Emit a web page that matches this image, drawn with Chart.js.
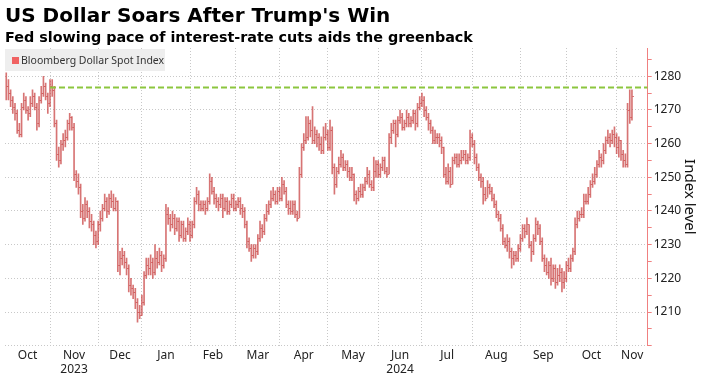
<!DOCTYPE html>
<html>
<head>
<meta charset="utf-8">
<script src="https://cdn.jsdelivr.net/npm/chart.js@4.4.1/dist/chart.umd.min.js"></script>
<style>
  html, body { margin: 0; padding: 0; background: #fff; }
  #wrap { position: relative; width: 708px; height: 379px; overflow: hidden; }
  #chart { position: absolute; left: 0; top: 0; }
  #title { position: absolute; left: 5px; top: 5px; font: bold 20px/20px "DejaVu Sans"; color: #000; white-space: nowrap; }
  #subtitle { position: absolute; left: 5px; top: 30px; font: bold 14.35px/14px "DejaVu Sans"; color: #000; white-space: nowrap; }
  #legend { position: absolute; left: 5px; top: 49px; width: 160px; height: 22px; background: #eeeeee;
            font: 10.5px/22px "Noto Sans"; color: #333; white-space: nowrap; }
  #legend .sw { position: absolute; left: 7px; top: 8px; width: 7px; height: 7px; background: #f06262; }
  #legend .txt { position: absolute; left: 16px; top: 0; }
</style>
</head>
<body>
<div id="wrap">
  <canvas id="chart" width="708" height="379"></canvas>
  <div id="title">US Dollar Soars After Trump's Win</div>
  <div id="subtitle">Fed slowing pace of interest-rate cuts aids the greenback</div>
  <div id="legend"><span class="sw"></span><span class="txt">Bloomberg Dollar Spot Index</span></div>
</div>
<script>
// daily bars, trading days from early Oct 2023 to mid Nov 2024
const closes = [
  1277,1275,1273,1271,1269,1264,1263,1271,1273,1270,
  1269,1272,1274,1271,1266,1273,1275,1277,1274,1272,
  1277,1276,1266,1257,1255,1260,1261,1262,1266,1268,
  1265,1251,1249,1247,1240,1238,1242,1240,1237,1236,
  1233,1231,1236,1238,1241,1243,1240,1244,1243,1241,
  1243,1224,1226,1227,1225,1223,1218,1217,1216,1213,
  1210,1209,1213,1221,1224,1223,1225,1222,1226,1225,
  1227,1224,1226,1239,1238,1236,1238,1235,1237,1233,
  1236,1232,1234,1236,1233,1236,1243,1245,1242,1241,
  1242,1241,1243,1249,1246,1244,1243,1242,1244,1241,
  1243,1240,1242,1244,1241,1242,1243,1241,1240,1236,
  1231,1229,1227,1229,1228,1232,1235,1234,1238,1240,
  1242,1244,1245,1243,1246,1244,1248,1246,1242,1241,
  1240,1242,1239,1238,1251,1259,1261,1262,1266,1264,
  1261,1263,1262,1260,1258,1262,1263,1259,1264,1253,
  1248,1252,1254,1256,1253,1254,1252,1250,1251,1245,
  1244,1246,1245,1247,1249,1251,1248,1247,1252,1254,
  1251,1253,1255,1252,1251,1262,1264,1266,1263,1267,
  1268,1265,1266,1268,1266,1267,1269,1266,1271,1272,
  1273,1270,1268,1266,1264,1261,1262,1262,1261,1259,
  1251,1249,1252,1248,1255,1256,1254,1255,1256,1257,
  1255,1256,1262,1260,1256,1253,1250,1249,1245,1244,
  1247,1246,1244,1242,1239,1238,1235,1231,1230,1231,
  1228,1226,1227,1226,1229,1232,1235,1234,1236,1230,
  1228,1232,1236,1235,1231,1226,1224,1222,1224,1220,
  1223,1219,1221,1222,1219,1220,1224,1223,1226,1228,
  1236,1238,1239,1239,1243,1243,1245,1248,1249,1251,
  1254,1256,1255,1258,1261,1262,1261,1263,1262,1259,
  1261,1257,1255,1254,1270,1268,1274
];
const highs = [
  1281,1279,1276,1274,1272,1270,1266,1272,1275,1274,
  1271,1274,1276,1275,1272,1274,1277,1280,1278,1275,
  1279,1279,1277,1267,1259,1261,1263,1264,1267,1269,
  1268,1266,1252,1251,1248,1242,1244,1243,1241,1239,
  1237,1234,1237,1240,1242,1245,1244,1245,1246,1245,
  1244,1243,1228,1229,1228,1226,1224,1220,1218,1217,
  1214,1212,1215,1222,1226,1226,1227,1226,1230,1228,
  1229,1228,1227,1242,1241,1239,1240,1239,1238,1238,
  1237,1237,1235,1238,1237,1237,1244,1247,1246,1243,
  1243,1243,1244,1251,1250,1247,1245,1244,1245,1245,
  1244,1244,1243,1245,1245,1243,1244,1244,1242,1241,
  1237,1232,1230,1230,1230,1233,1237,1236,1239,1242,
  1243,1246,1247,1246,1247,1247,1250,1249,1247,1243,
  1243,1243,1243,1240,1253,1260,1263,1268,1268,1267,
  1271,1265,1264,1263,1262,1265,1266,1264,1267,1265,
  1254,1253,1256,1258,1257,1255,1255,1253,1253,1251,
  1246,1247,1248,1248,1250,1253,1252,1249,1256,1255,
  1255,1254,1256,1256,1253,1263,1266,1267,1267,1268,
  1270,1269,1267,1270,1269,1268,1270,1270,1272,1274,
  1275,1274,1271,1269,1267,1265,1264,1263,1263,1262,
  1259,1253,1254,1253,1256,1257,1257,1257,1258,1258,
  1258,1257,1264,1263,1261,1257,1254,1251,1250,1247,
  1249,1248,1247,1245,1243,1240,1239,1236,1232,1233,
  1232,1229,1228,1228,1230,1233,1236,1236,1238,1236,
  1231,1233,1238,1237,1236,1232,1227,1226,1225,1226,
  1224,1224,1223,1224,1223,1222,1225,1226,1227,1229,
  1238,1240,1240,1241,1245,1245,1247,1249,1251,1253,
  1255,1258,1257,1260,1262,1264,1263,1264,1265,1263,
  1262,1261,1258,1257,1272,1276,1276
];
const lows = [
  1273,1273,1271,1269,1267,1263,1262,1262,1270,1269,
  1267,1268,1271,1270,1264,1265,1272,1274,1273,1269,
  1271,1274,1265,1255,1253,1254,1258,1259,1261,1264,
  1264,1249,1247,1245,1238,1236,1237,1238,1235,1234,
  1230,1229,1230,1234,1237,1240,1238,1239,1241,1240,
  1240,1222,1221,1224,1223,1221,1216,1215,1214,1211,
  1207,1208,1209,1212,1220,1221,1221,1220,1221,1223,
  1224,1222,1223,1225,1236,1234,1235,1233,1234,1231,
  1232,1231,1231,1233,1231,1232,1235,1242,1240,1240,
  1240,1239,1240,1242,1245,1242,1241,1240,1241,1238,
  1240,1239,1239,1241,1240,1240,1241,1239,1238,1235,
  1229,1228,1225,1226,1226,1227,1231,1232,1233,1237,
  1239,1241,1243,1242,1242,1243,1243,1245,1241,1239,
  1239,1239,1238,1237,1238,1250,1258,1260,1261,1262,
  1260,1260,1259,1258,1257,1257,1261,1258,1258,1251,
  1245,1247,1251,1253,1252,1252,1250,1249,1249,1243,
  1242,1243,1244,1244,1246,1248,1247,1246,1246,1250,
  1250,1250,1252,1251,1250,1251,1260,1263,1259,1262,
  1266,1264,1264,1265,1265,1265,1266,1264,1265,1270,
  1271,1268,1267,1264,1263,1260,1260,1260,1259,1257,
  1250,1248,1248,1247,1248,1254,1253,1253,1254,1255,
  1254,1254,1255,1259,1254,1252,1249,1247,1242,1243,
  1244,1245,1243,1241,1238,1237,1234,1230,1229,1228,
  1226,1223,1224,1225,1225,1228,1231,1232,1233,1229,
  1225,1227,1231,1233,1230,1225,1222,1221,1220,1218,
  1219,1217,1218,1219,1216,1217,1219,1222,1222,1225,
  1227,1235,1237,1238,1238,1242,1242,1244,1247,1248,
  1250,1253,1253,1254,1257,1260,1259,1260,1259,1257,
  1256,1255,1253,1253,1253,1266,1267
];

// month boundaries (index of first trading day of each month), Nov 2023 .. Nov 2024
const monthStarts = [20, 42, 62, 84, 105, 125, 147, 170, 190, 213, 235, 256, 279];
const monthNames = ["Oct", "Nov", "Dec", "Jan", "Feb", "Mar", "Apr", "May", "Jun", "Jul", "Aug", "Sep", "Oct", "Nov"];
const yearNames = { 1: "2023", 8: "2024" };
const yTickValues = [1200, 1205, 1210, 1215, 1220, 1225, 1230, 1235, 1240, 1245, 1250, 1255, 1260, 1265, 1270, 1275, 1280, 1285];
const yLabelValues = [1210, 1220, 1230, 1240, 1250, 1260, 1270, 1280];
const highSinceLevel = 1276.7;
const highSinceStart = 20;

const X_MIN = -0.57, X_MAX = 293.2;
const Y_MIN = 1200, Y_MAX = 1288.4;
const BAR_COLOR = "rgba(200, 62, 62, 0.72)";
const GRID_COLOR = "#c8c8c8";
const AXIS_PINK = "#f08080";

const bounds = [X_MIN, ...monthStarts, X_MAX];
const labelPos = monthNames.map((_, i) => (bounds[i] + bounds[i + 1]) / 2);

const closeTicks = {
  id: "closeTicks",
  afterDatasetDraw(chart, args) {
    if (args.index !== 0) return;
    const { ctx, scales: { x, y } } = chart;
    ctx.save();
    ctx.strokeStyle = BAR_COLOR;
    ctx.lineWidth = 1;
    ctx.beginPath();
    closes.forEach((c, i) => {
      const px = x.getPixelForValue(i) + 0.5;
      const py = Math.round(y.getPixelForValue(c)) + 0.5;
      ctx.moveTo(px, py);
      ctx.lineTo(px + 1.5, py);
    });
    ctx.stroke();
    ctx.restore();
  }
};

new Chart(document.getElementById("chart"), {
  type: "bar",
  data: {
    datasets: [
      {
        type: "bar",
        label: "Bloomberg Dollar Spot Index",
        data: lows.map((l, i) => ({ x: i, y: [l, highs[i]] })),
        backgroundColor: BAR_COLOR,
        borderWidth: 0,
        barThickness: 1,
        grouped: false,
        order: 2
      },
      {
        type: "line",
        label: "high",
        data: [{ x: highSinceStart, y: highSinceLevel }, { x: X_MAX, y: highSinceLevel }],
        borderColor: "#8cc63e",
        borderWidth: 2,
        borderDash: [6, 3],
        pointRadius: 0,
        order: 0
      }
    ]
  },
  options: {
    responsive: false,
    animation: false,
    devicePixelRatio: 1,
    layout: { padding: { left: 5, top: 48, right: 0, bottom: 0 } },
    plugins: { legend: { display: false }, tooltip: { enabled: false } },
    scales: {
      x: {
        type: "linear",
        min: X_MIN,
        max: X_MAX,
        offset: false,
        afterBuildTicks: (s) => {
          s.ticks = monthStarts.map(v => ({ value: v })).concat(labelPos.map(v => ({ value: v })));
        },
        ticks: {
          autoSkip: false,
          maxRotation: 0,
          padding: 3,
          color: "#222",
          font: { family: "Noto Sans", size: 12, lineHeight: 1.15 },
          callback: (v, i) => {
            if (i < monthStarts.length) return "";
            const k = i - monthStarts.length;
            return yearNames[k] ? [monthNames[k], yearNames[k]] : monthNames[k];
          }
        },
        grid: {
          offset: false,
          drawTicks: false,
          color: (c) => (c.tick && monthStarts.includes(c.tick.value)) ? GRID_COLOR : "rgba(0,0,0,0)"
        },
        border: { display: false, dash: [1, 2] },
        afterFit: (s) => { s.height = 33.3; }
      },
      y: {
        position: "right",
        min: Y_MIN,
        max: Y_MAX,
        afterBuildTicks: (s) => { s.ticks = yTickValues.map(v => ({ value: v })); },
        ticks: {
          padding: 2,
          color: "#222",
          font: { family: "Noto Sans", size: 12 },
          callback: (v) => yLabelValues.includes(v) ? String(v) : ""
        },
        grid: {
          color: (c) => (c.tick && c.tick.value % 10 === 0) ? GRID_COLOR : "rgba(0,0,0,0)",
          tickColor: AXIS_PINK,
          tickLength: 4
        },
        border: { display: true, color: AXIS_PINK, dash: [1, 2] },
        title: {
          display: true,
          text: "Index level",
          color: "#111",
          font: { family: "Noto Sans", size: 15 },
          padding: { top: 10, bottom: 0 }
        },
        afterFit: (s) => { s.width = 60.3; }
      }
    }
  },
  plugins: [closeTicks]
});
</script>
</body>
</html>
